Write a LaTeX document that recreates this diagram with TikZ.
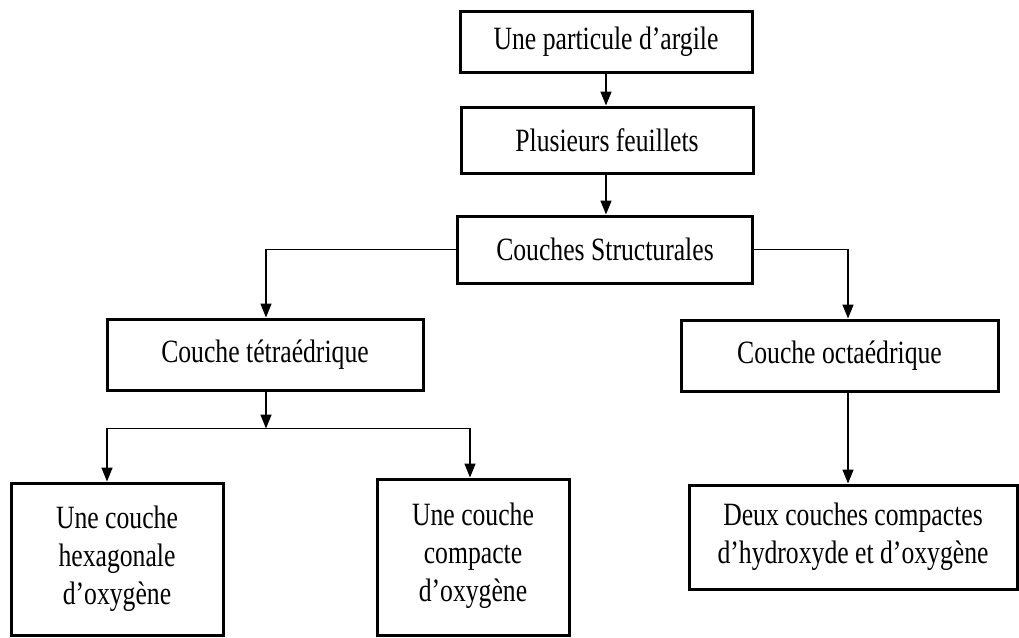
\documentclass[tikz,border=0pt]{standalone}
\usepackage{fontspec}
\setmainfont{Liberation Serif}[FakeStretch=0.79]
\usetikzlibrary{arrows.meta}
\begin{document}
\begin{tikzpicture}[x=1pt,y=-1pt,
  box/.style={draw, line width=3pt, inner sep=0pt, align=center,
              font=\fontsize{32.5}{38}\selectfont},
  link/.style={line width=1.6pt, -{Triangle[length=14pt,width=11pt]}},
  wire/.style={line width=1.6pt}]
\useasboundingbox (0,0) rectangle (1019,637);
\fill[white] (0,0) rectangle (1019,637);

% main chain
\node[box, minimum width=292pt, minimum height=61pt] (b1) at (606,41.5) {Une particule d’argile};
\node[box, minimum width=292pt, minimum height=66pt] (b2) at (607,140) {Plusieurs feuillets};
\node[box, minimum width=295pt, minimum height=67pt] (b3) at (605,249.5) {Couches Structurales};

% the two layers
\node[box, minimum width=316pt, minimum height=71pt] (tetra) at (265,354.5) {Couche tétraédrique};
\node[box, minimum width=317pt, minimum height=71pt] (octa) at (839.5,355.5) {Couche octaédrique};

% leaves
\node[box, minimum width=212pt, minimum height=152pt] (hexa) at (117,559) {Une couche\\hexagonale\\d’oxygène};
\node[box, minimum width=192pt, minimum height=156pt, text depth=10pt] (comp) at (473,557) {Une couche\\compacte\\d’oxygène};
\node[box, minimum width=328pt, minimum height=104pt] (deux) at (853,537) {Deux couches compactes\\d’hydroxyde et d’oxygène};

% connectors
\draw[link] (b1.south) -- (b1.south |- b2.north);
\draw[link] (b1.south |- b2.south) -- (b1.south |- b3.north);
\draw[link] (b3.west) -| ([xshift=1pt]tetra.north);
\draw[link] (b3.east) -| ([xshift=8.5pt]octa.north);

\coordinate (split) at ([xshift=1pt,yshift=-37pt]tetra.south);
\draw[link] ([xshift=1pt]tetra.south) -- (split);
\draw[link] (split) -| ([xshift=-10pt]hexa.north);
\draw[link] (split) -| ([xshift=-3pt]comp.north);
\draw[wire] ([xshift=-3pt,yshift=-4pt]comp.north |- split) -- ([xshift=-3pt]comp.north |- split);

\draw[link] ([xshift=8.5pt]octa.south) -- ([xshift=8.5pt]octa.south |- deux.north);
\end{tikzpicture}
\end{document}
